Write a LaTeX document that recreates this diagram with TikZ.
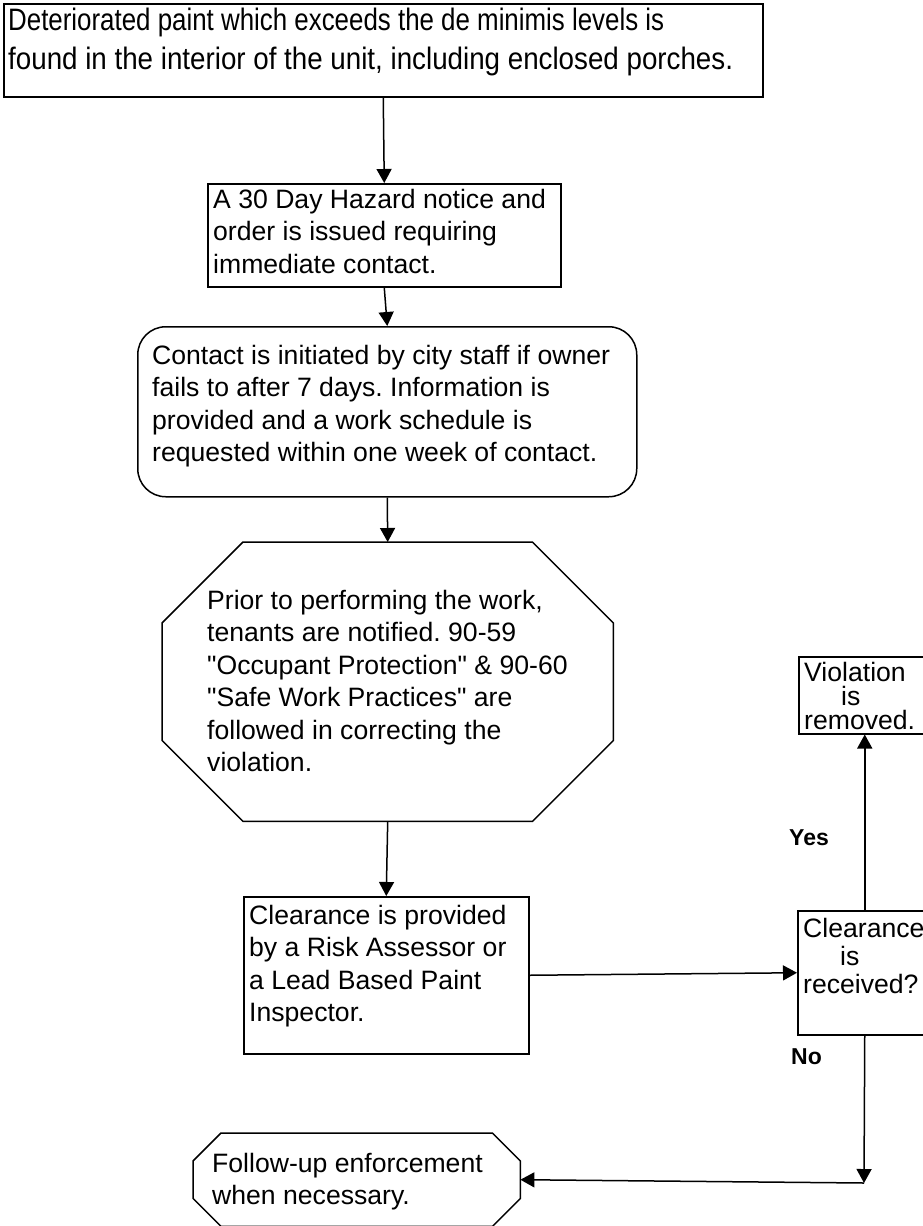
\documentclass[tikz,border=0pt]{standalone}
\usepackage{fontspec}
\setmainfont{Liberation Sans}
\newfontfamily\narrowA{Liberation Sans}[FakeStretch=0.835]
\newfontfamily\narrowB{Liberation Sans}[FakeStretch=0.895]
\newfontfamily\qfont{Liberation Sans}[Ligatures=TeXOff]
\usetikzlibrary{arrows.meta,calc}
\newcommand{\qq}{{\qfont\symbol{34}}}
\frenchspacing
\begin{document}
\begin{tikzpicture}[x=1pt,y=1pt,
  box/.style={draw, line width=1.5pt, inner sep=0pt, anchor=north west},
  frame/.style={inner sep=0pt, anchor=north west},
  edge/.style={line width=1.5pt},
  txt/.style={inner sep=0pt, anchor=north west, align=left, font=\fontsize{26.6}{32.5}\selectfont},
  lbl/.style={inner sep=0pt, anchor=west, font=\bfseries\fontsize{23}{27}\selectfont},
  arr/.style={line width=1.5pt, -{Triangle[length=14pt,width=15pt]}}]
\useasboundingbox (0,0) rectangle (923,-1226);
% boxes
\node[box, minimum width=759pt, minimum height=93pt] (b1) at (3,-3) {};
\node[box, minimum width=353pt, minimum height=103pt] (b2) at (207,-183) {};
\node[box, rounded corners=28pt, minimum width=499pt, minimum height=170pt] (b3) at (137,-326) {};
\node[frame, minimum width=451pt, minimum height=279pt] (oct) at (162,-542) {};
\draw[edge] ($(oct.north west)+(81,0)$) -- ($(oct.north east)+(-81,0)$) -- ($(oct.north east)+(0,-81)$)
  -- ($(oct.south east)+(0,81)$) -- ($(oct.south east)+(-81,0)$) -- ($(oct.south west)+(81,0)$)
  -- ($(oct.south west)+(0,81)$) -- ($(oct.north west)+(0,-81)$) -- cycle;
\node[box, minimum width=285pt, minimum height=157pt] (b5) at (243,-896) {};
\node[box, minimum width=132pt, minimum height=77pt] (bv) at (798,-656) {};
\node[box, minimum width=134pt, minimum height=124pt] (bc) at (797,-910) {};
\node[frame, minimum width=327pt, minimum height=93pt] (oct2) at (193,-1133) {};
\draw[edge] ($(oct2.north west)+(28,0)$) -- ($(oct2.north east)+(-28,0)$) -- ($(oct2.north east)+(0,-28)$)
  -- ($(oct2.south east)+(0,28)$) -- ($(oct2.south east)+(-28,0)$) -- ($(oct2.south west)+(28,0)$)
  -- ($(oct2.south west)+(0,28)$) -- ($(oct2.north west)+(0,-28)$) -- cycle;
% texts
\node[txt, font=\fontsize{31}{39}\selectfont] (t1) at (8,-8)
  {\narrowA Deteriorated paint which exceeds the de minimis levels is\\\narrowB found in the interior of the unit, including enclosed porches.};
\node[txt] (t2) at (213,-189) {A 30 Day Hazard notice and\\order is issued requiring\\immediate contact.};
\node[txt] (t3) at (152,-345) {Contact is initiated by city staff if owner\\fails to after 7 days. Information is\\provided and a work schedule is\\requested within one week of contact.};
\node[txt] (t4) at (207,-590) {Prior to performing the work,\\tenants are notified. 90-59\\\qq Occupant Protection\qq{} \& 90-60\\\qq Safe Work Practices\qq{} are\\followed in correcting the\\violation.};
\node[txt] (t5) at (249,-905) {Clearance is provided\\by a Risk Assessor or\\a Lead Based Paint\\Inspector.};
\node[txt, font=\fontsize{26.6}{24}\selectfont] (tv) at (804,-662) {Violation\\\hspace*{37pt}is\\removed.};
\node[txt, font=\fontsize{26.6}{28}\selectfont] (tc) at (803,-918) {Clearance\\\hspace*{37pt}is\\received?};
\node[txt] (t6) at (212,-1153) {Follow-up enforcement\\when necessary.};
\node[lbl] (yes) at (789,-838) {Yes};
\node[lbl] (no) at (791,-1057) {No};
% connectors
\coordinate (corner) at (864,-1183);
\draw[arr] (b1.south) -- (b2.north);
\draw[arr] (b2.south) -- (b3.north);
\draw[arr] (b3.south) -- (oct.north);
\draw[arr] (oct.south) -- (b5.north);
\draw[arr] (b5.east) -- (bc.west);
\draw[arr] (bc.north) -- (bv.south);
\draw[arr] (bc.south) -- (corner);
\draw[arr] (corner) -- (oct2.east);
\end{tikzpicture}
\end{document}
